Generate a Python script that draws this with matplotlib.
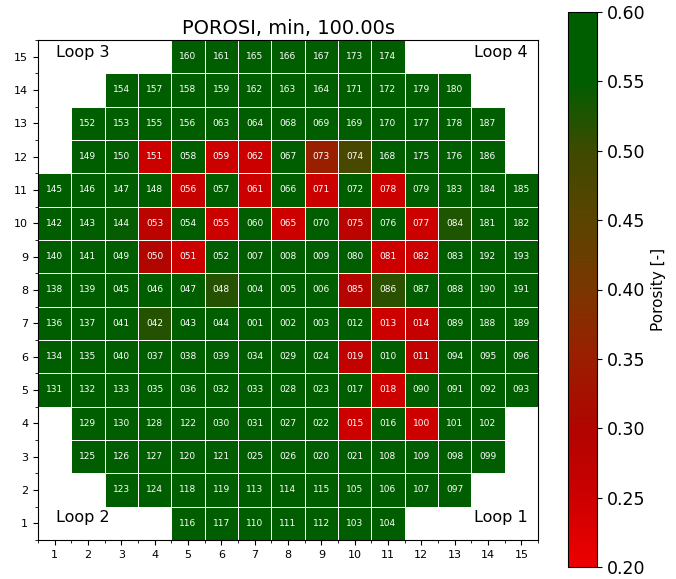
import matplotlib
matplotlib.use("Agg")
import matplotlib.pyplot as plt
from matplotlib.colors import LinearSegmentedColormap
import numpy as np

# assembly ids per row, top row (y=15) first; '' = no fuel
rows = [
    ['', '', '', '', '160', '161', '165', '166', '167', '173', '174', '', '', '', ''],
    ['', '', '154', '157', '158', '159', '162', '163', '164', '171', '172', '179', '180', '', ''],
    ['', '152', '153', '155', '156', '063', '064', '068', '069', '169', '170', '177', '178', '187', ''],
    ['', '149', '150', '151', '058', '059', '062', '067', '073', '074', '168', '175', '176', '186', ''],
    ['145', '146', '147', '148', '056', '057', '061', '066', '071', '072', '078', '079', '183', '184', '185'],
    ['142', '143', '144', '053', '054', '055', '060', '065', '070', '075', '076', '077', '084', '181', '182'],
    ['140', '141', '049', '050', '051', '052', '007', '008', '009', '080', '081', '082', '083', '192', '193'],
    ['138', '139', '045', '046', '047', '048', '004', '005', '006', '085', '086', '087', '088', '190', '191'],
    ['136', '137', '041', '042', '043', '044', '001', '002', '003', '012', '013', '014', '089', '188', '189'],
    ['134', '135', '040', '037', '038', '039', '034', '029', '024', '019', '010', '011', '094', '095', '096'],
    ['131', '132', '133', '035', '036', '032', '033', '028', '023', '017', '018', '090', '091', '092', '093'],
    ['', '129', '130', '128', '122', '030', '031', '027', '022', '015', '016', '100', '101', '102', ''],
    ['', '125', '126', '127', '120', '121', '025', '026', '020', '021', '108', '109', '098', '099', ''],
    ['', '', '123', '124', '118', '119', '113', '114', '115', '105', '106', '107', '097', '', ''],
    ['', '', '', '', '116', '117', '110', '111', '112', '103', '104', '', '', '', ''],
]

# min porosity of assemblies that drop below the max, everything else sits at 0.60
low_porosity = {
    '151': 0.25, '059': 0.25, '062': 0.25, '073': 0.35, '074': 0.48,
    '056': 0.26, '061': 0.25, '066': 0.55, '071': 0.25, '078': 0.25,
    '144': 0.545, '053': 0.28, '055': 0.25, '065': 0.25, '075': 0.28,
    '077': 0.25, '084': 0.525, '050': 0.30, '051': 0.25, '081': 0.25,
    '082': 0.25, '048': 0.52, '085': 0.29, '086': 0.515, '042': 0.52,
    '013': 0.25, '014': 0.265, '019': 0.27, '011': 0.27, '018': 0.25,
    '015': 0.25, '100': 0.25,
}
default_porosity = 0.60

vmin, vmax = 0.20, 0.60
loops = [('Loop 3', 0.035, 0.99, 'left', 'top'),
         ('Loop 4', 0.98, 0.99, 'right', 'top'),
         ('Loop 2', 0.035, 0.03, 'left', 'bottom'),
         ('Loop 1', 0.98, 0.03, 'right', 'bottom')]

n = len(rows)
grid = np.full((n, n), np.nan)
for r, row in enumerate(rows):
    y = n - 1 - r
    for x, lab in enumerate(row):
        if lab:
            grid[y, x] = low_porosity.get(lab, default_porosity)

cmap = LinearSegmentedColormap.from_list('porosity', [
    (0.0, '#ee0000'), (0.125, '#cc0000'), (0.25, '#b00500'),
    (0.375, '#9a1e00'), (0.5, '#7a3600'), (0.625, '#5a4400'),
    (0.75, '#3e4a00'), (0.875, '#005e00'), (1.0, '#005e00')])

fig = plt.figure(figsize=(6.76, 5.79), dpi=100)
ax = fig.add_axes([38 / 676, 1 - 540 / 579, 500 / 676, 500 / 579])
cax = fig.add_axes([568 / 676, 1 - 567 / 579, 29 / 676, 555 / 579])

edges = np.arange(0.5, n + 1, 1)
mesh = ax.pcolormesh(edges, edges, np.ma.masked_invalid(grid), cmap=cmap,
                     vmin=vmin, vmax=vmax, edgecolors='white', linewidth=0.5)

for r, row in enumerate(rows):
    y = n - r
    for x, lab in enumerate(row):
        if lab:
            ax.text(x + 1, y, lab, ha='center', va='center', color='white', fontsize=6.5)

for txt, tx, ty, ha, va in loops:
    ax.text(tx, ty, txt, transform=ax.transAxes, ha=ha, va=va, fontsize=11.5)

ax.set_xlim(0.5, n + 0.5)
ax.set_ylim(0.5, n + 0.5)
ax.set_xticks(range(1, n + 1))
ax.set_yticks(range(1, n + 1))
ax.set_xticks(edges, minor=True)
ax.set_yticks(edges, minor=True)
ax.tick_params(labelsize=8)
ax.set_title('POROSI, min, 100.00s', fontsize=14, pad=4)

cb = fig.colorbar(mesh, cax=cax)
cb.set_ticks(np.arange(0.20, 0.61, 0.05))
cb.ax.tick_params(labelsize=12.5)
cb.set_label('Porosity [-]', fontsize=11)

fig.savefig('out.png', dpi=100)
